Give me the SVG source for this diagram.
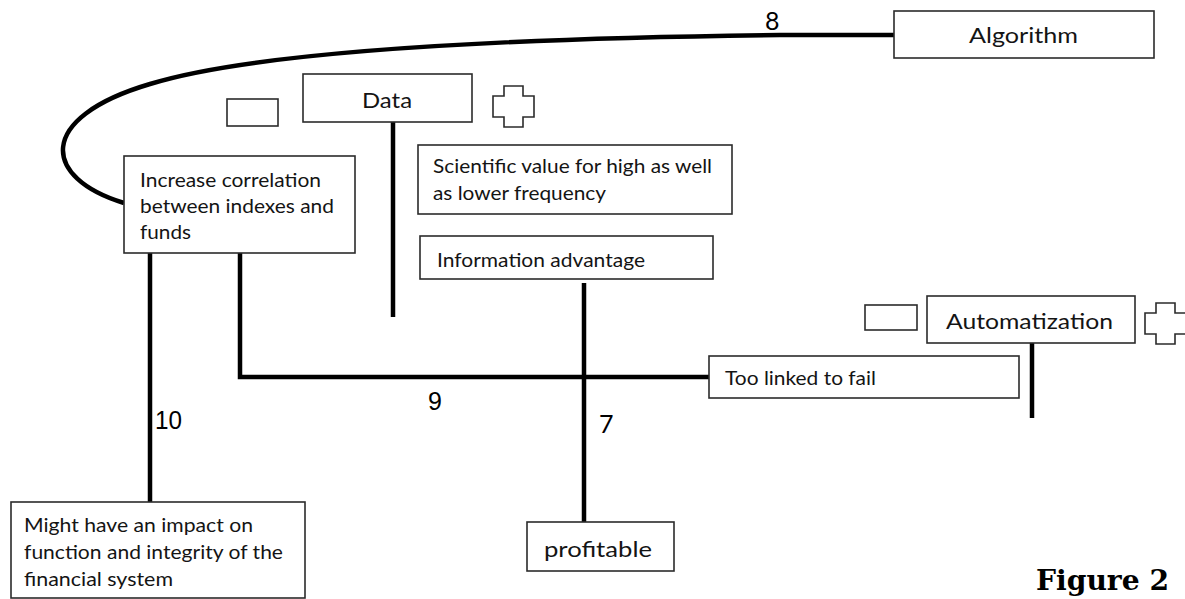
<svg xmlns="http://www.w3.org/2000/svg" width="1185" height="599" viewBox="0 0 1185 599">
  <style>
    .box { fill: #fff; stroke: #2b2b2b; stroke-width: 1.6; }
    .link { fill: none; stroke: #000; stroke-width: 4.5; }
    .t { font-family: Lato, "Liberation Sans", sans-serif; font-size: 19px; fill: #141414; }
    .tl { font-family: Lato, "Liberation Sans", sans-serif; font-size: 22px; fill: #141414; }
    .num { font-family: "Liberation Sans", Arial, sans-serif; font-size: 25px; fill: #000; }
    .numc { font-family: Lato, "Liberation Sans", sans-serif; font-size: 25px; fill: #000; }
    .fig { font-family: "DejaVu Serif", "Liberation Serif", serif; font-size: 28px; font-weight: bold; fill: #000; }
  </style>
  <defs>
    <path id="cross" d="M11 0 H30 V10 H41 V31 H30 V41 H11 V31 H0 V10 H11 Z" class="box"/>
  </defs>

  <!-- connectors -->
  <g id="connectors">
    <path class="link" d="M894 35 L780 35 C520 38 260 50 150 84 C35 118 42 178 124 203"/>
    <line class="link" x1="393" y1="122" x2="393" y2="317"/>
    <line class="link" x1="150" y1="253" x2="150" y2="502"/>
    <polyline class="link" points="240,253 240,377 709,377"/>
    <line class="link" x1="584" y1="283" x2="584" y2="522"/>
    <line class="link" x1="1032" y1="343" x2="1032" y2="418"/>
    <text class="numc" x="765" y="30">8</text>
    <text class="num" x="428" y="410">9</text>
    <text class="num" x="155" y="429" textLength="27" lengthAdjust="spacingAndGlyphs">10</text>
    <text class="numc" x="599" y="433">7</text>
  </g>

  <g id="algorithm">
    <rect class="box" x="894" y="11" width="260" height="47"/>
    <text class="tl" x="969" y="43" textLength="109" lengthAdjust="spacingAndGlyphs">Algorithm</text>
  </g>

  <g id="data">
    <rect class="box" x="227" y="99" width="51" height="27"/>
    <rect class="box" x="303" y="74" width="169" height="48"/>
    <text class="tl" x="362" y="108" textLength="50" lengthAdjust="spacingAndGlyphs">Data</text>
    <use href="#cross" x="493" y="86"/>
  </g>

  <g id="correlation">
    <rect class="box" x="124" y="156" width="231" height="97"/>
    <text class="t" x="140" y="187" textLength="181" lengthAdjust="spacingAndGlyphs">Increase correlation</text>
    <text class="t" x="140" y="213" textLength="194" lengthAdjust="spacingAndGlyphs">between indexes and</text>
    <text class="t" x="140" y="239" textLength="51" lengthAdjust="spacingAndGlyphs">funds</text>
  </g>

  <g id="scientific">
    <rect class="box" x="418" y="145" width="314" height="69"/>
    <text class="t" x="433" y="173" textLength="279" lengthAdjust="spacingAndGlyphs">Scientific value for high as well</text>
    <text class="t" x="433" y="200" textLength="173" lengthAdjust="spacingAndGlyphs">as lower frequency</text>
  </g>

  <g id="information">
    <rect class="box" x="420" y="236" width="293" height="43"/>
    <text class="t" x="437" y="267" textLength="208" lengthAdjust="spacingAndGlyphs">Information advantage</text>
  </g>

  <g id="automatization">
    <rect class="box" x="865" y="305" width="52" height="25"/>
    <rect class="box" x="927" y="296" width="208" height="47"/>
    <text class="tl" x="946" y="329" textLength="167" lengthAdjust="spacingAndGlyphs">Automatization</text>
    <use href="#cross" x="1145" y="303"/>
  </g>

  <g id="linked">
    <rect class="box" x="709" y="356" width="310" height="42"/>
    <text class="t" x="725" y="385" font-size="18" textLength="151" lengthAdjust="spacingAndGlyphs">Too linked to fail</text>
  </g>

  <g id="impact">
    <rect class="box" x="11" y="502" width="294" height="96"/>
    <text class="t" x="24" y="532" textLength="229" lengthAdjust="spacingAndGlyphs">Might have an impact on</text>
    <text class="t" x="24" y="559" textLength="259" lengthAdjust="spacingAndGlyphs">function and integrity of the</text>
    <text class="t" x="24" y="586" textLength="149" lengthAdjust="spacingAndGlyphs">financial system</text>
  </g>

  <g id="profitable">
    <rect class="box" x="527" y="522" width="147" height="49"/>
    <text class="tl" x="544" y="557" textLength="108" lengthAdjust="spacingAndGlyphs">profitable</text>
  </g>

  <text class="fig" x="1036" y="590" textLength="133" lengthAdjust="spacingAndGlyphs">Figure 2</text>
</svg>
